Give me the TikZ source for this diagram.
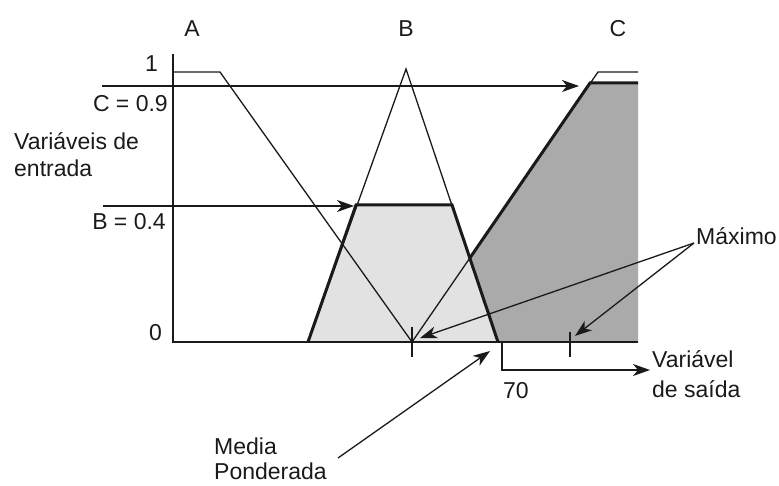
\documentclass[tikz,border=0pt]{standalone}
\usepackage{fontspec}
\setmainfont{Liberation Sans}
\usetikzlibrary{arrows.meta}
\definecolor{ink}{HTML}{1A1A1A}
\definecolor{darkfill}{HTML}{AAAAAA}
\definecolor{lightfill}{HTML}{E2E2E2}
\begin{document}
\begin{tikzpicture}[x=1pt,y=-1pt,
  lbl/.style={inner sep=0pt,font=\fontsize{23}{27}\selectfont,text=ink},
  thin/.style={draw=ink,line width=1.3pt},
  thick/.style={draw=ink,line width=3pt,line join=miter},
  arr/.style={draw=ink,line width=1.3pt,-{Stealth[length=17pt,width=12pt,inset=5pt]}},
  tick/.style={draw=ink,line width=1.3pt}]
\useasboundingbox (0,0) rectangle (779,486);
% key points
\coordinate (ytop) at (173,54);
\coordinate (o) at (173,342);
\coordinate (xend) at (638,342);
\coordinate (a0) at (173,72);
\coordinate (a1) at (220,72);
\coordinate (a2) at (412,342);
\coordinate (b0) at (308,342);
\coordinate (b1) at (406,69);
\coordinate (b2) at (498,342);
\coordinate (bt1) at (356,205);
\coordinate (bt2) at (452,205);
\coordinate (c0) at (412,342);
\coordinate (c1) at (598,72);
\coordinate (c2) at (638,72);
\coordinate (ct1) at (590,83);
\coordinate (ct2) at (638,83);
\coordinate (cx) at (intersection of c0--c1 and b1--b2);
% fills
\fill[darkfill] (c0) -- (ct1) -- (ct2) -- (xend) -- cycle;
\fill[lightfill] (b0) -- (bt1) -- (bt2) -- (b2) -- cycle;
% axes
\draw[thin] (ytop) -- (o) -- (xend);
% membership functions (thin)
\draw[thin,line join=miter] (a0) -- (a1) -- (a2);
\draw[thin,line join=miter] (b0) -- (b1) -- (b2);
\draw[thin,line join=miter] (c0) -- (c1) -- (c2);
% clipped (thick)
\draw[thick] (b0) -- (bt1) -- (bt2) -- (b2);
\draw[thick] (cx) -- (ct1) -- (ct2);
% ticks
\coordinate (t1a) at (412,327); \coordinate (t1b) at (412,357);
\coordinate (t2a) at (570,332); \coordinate (t2b) at (570,357);
\draw[tick] (t1a) -- (t1b);
\draw[tick] (t2a) -- (t2b);
% input arrows
\coordinate (cin) at (102,86); \coordinate (cout) at (579,86);
\coordinate (bin) at (103,206); \coordinate (bout) at (354,206);
\draw[arr] (cin) -- (cout);
\draw[arr] (bin) -- (bout);
% labels
\node[lbl,anchor=base] (lA) at (192,37) {A};
\node[lbl,anchor=base] (lB) at (406,37) {B};
\node[lbl,anchor=base] (lC) at (618,37) {C};
\node[lbl,anchor=base east] (l1) at (158,72) {1};
\node[lbl,anchor=base east] (lc9) at (168,112) {C = 0.9};
\node[lbl,anchor=base west] (lv1) at (14,150) {Variáveis de};
\node[lbl,anchor=base west] (lv2) at (14,177) {entrada};
\node[lbl,anchor=base east] (lb4) at (166,230) {B = 0.4};
\node[lbl,anchor=base east] (l0) at (162,341) {0};
\node[lbl,anchor=base west] (lmax) at (696,245) {Máximo};
\node[lbl,anchor=base west] (l70) at (503,398) {70};
\node[lbl,anchor=base west] (lo1) at (652,367) {Variável};
\node[lbl,anchor=base west] (lo2) at (652,397) {de saída};
\node[lbl,anchor=base west] (lm1) at (214,454) {Media};
\node[lbl,anchor=base west] (lm2) at (214,479) {Ponderada};
% annotation arrows
\coordinate (mx) at (694,243);
\coordinate (mx1) at (420,338);
\coordinate (mx2) at (575,336);
\draw[arr] (mx) -- (mx1);
\draw[arr] (mx) -- (mx2);
\coordinate (mp) at (338,458);
\coordinate (mpt) at (490,351);
\draw[arr] (mp) -- (mpt);
% output arrow
\coordinate (s0) at (502,342);
\coordinate (s1) at (502,370);
\coordinate (s2) at (650,370);
\draw[arr] (s0) -- (s1) -- (s2);
\end{tikzpicture}
\end{document}
